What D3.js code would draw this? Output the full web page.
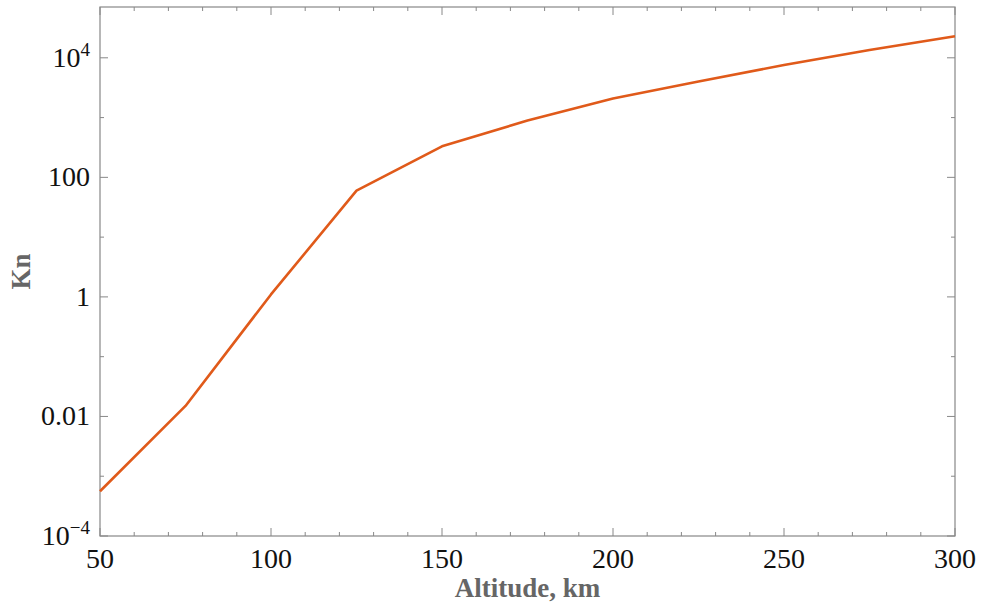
<!DOCTYPE html>
<html>
<head>
<meta charset="utf-8">
<script src="https://cdn.jsdelivr.net/npm/d3@7"></script>
<style>
  body { margin: 0; background: #fff; }
  text { font-family: "Liberation Serif", "Times New Roman", serif; }
</style>
</head>
<body>
<div id="chart"></div>
<script>
const altitudes = [50, 75, 100, 125, 150, 175, 200, 225, 250, 275, 300];
const knudsen = [5.6e-4, 0.015, 1.1, 60, 330, 890, 2090, 4000, 7600, 13500, 23000];
const xTicks = [50, 100, 150, 200, 250, 300];
const yTicks = [1e-4, 0.01, 1, 100, 1e4];
const yTickLabels = ['10|-4', '0.01', '1', '100', '10|4'];

const chartWidth = 985;
const chartHeight = 610;
const margin = {top: 7, right: 30, bottom: 74, left: 100};

const xScale = d3.scaleLinear()
  .domain([50, 300])
  .range([margin.left, chartWidth - margin.right]);

const yScale = d3.scaleLog()
  .domain([1e-4, Math.pow(10, 4.85)])
  .range([chartHeight - margin.bottom, margin.top]);

const chart = d3.select('#chart')
  .append('svg')
  .attr('width', chartWidth)
  .attr('height', chartHeight);

const frameColor = '#888';
const x0 = margin.left, x1 = chartWidth - margin.right;
const y0 = chartHeight - margin.bottom, y1 = margin.top;

//Minor ticks
const xMinor = d3.range(50, 301, 10).filter(v => !xTicks.includes(v));
const yMinor = [1e-3, 0.1, 10, 1e3];

function drawTicks(g, scale, values, len, orient) {
  g.selectAll(null)
    .data(values)
    .enter()
    .append('line')
    .attr('stroke', frameColor)
    .attr('stroke-width', 1)
    .each(function(d) {
      const s = d3.select(this);
      if (orient === 'bottom') s.attr('x1', scale(d)).attr('x2', scale(d)).attr('y1', y0).attr('y2', y0 - len);
      if (orient === 'top') s.attr('x1', scale(d)).attr('x2', scale(d)).attr('y1', y1).attr('y2', y1 + len);
      if (orient === 'left') s.attr('y1', scale(d)).attr('y2', scale(d)).attr('x1', x0).attr('x2', x0 + len);
      if (orient === 'right') s.attr('y1', scale(d)).attr('y2', scale(d)).attr('x1', x1).attr('x2', x1 - len);
    });
}

const ticks = chart.append('g').attr('class', 'ticks');
drawTicks(ticks, xScale, xTicks, 8, 'bottom');
drawTicks(ticks, xScale, xMinor, 4, 'bottom');
drawTicks(ticks, xScale, xTicks, 8, 'top');
drawTicks(ticks, xScale, xMinor, 4, 'top');
drawTicks(ticks, yScale, yTicks, 8, 'left');
drawTicks(ticks, yScale, yMinor, 4, 'left');
drawTicks(ticks, yScale, yTicks, 8, 'right');
drawTicks(ticks, yScale, yMinor, 4, 'right');

//Frame
chart.append('rect')
  .attr('x', x0)
  .attr('y', y1)
  .attr('width', x1 - x0)
  .attr('height', y0 - y1)
  .attr('fill', 'none')
  .attr('stroke', frameColor)
  .attr('stroke-width', 1.2);

//Tick labels
chart.append('g')
  .selectAll('text')
  .data(xTicks)
  .enter()
  .append('text')
  .attr('x', d => xScale(d))
  .attr('y', y0 + 32)
  .attr('text-anchor', 'middle')
  .attr('font-size', 28)
  .attr('fill', '#111')
  .text(d => d);

const yLabels = chart.append('g')
  .selectAll('text')
  .data(yTicks)
  .enter()
  .append('text')
  .attr('x', x0 - 10)
  .attr('y', d => yScale(d) + 9)
  .attr('text-anchor', 'end')
  .attr('font-size', 28)
  .attr('fill', '#111');

yLabels.each(function(d, i) {
  const parts = yTickLabels[i].split('|');
  const t = d3.select(this);
  t.append('tspan').text(parts[0]);
  if (parts[1]) {
    t.append('tspan')
      .attr('font-size', 19)
      .attr('dy', -11)
      .text(parts[1].replace('-', '\u2212'));
  }
});

//Axis titles
chart.append('text')
  .attr('x', (x0 + x1) / 2)
  .attr('y', 597)
  .attr('text-anchor', 'middle')
  .attr('font-size', 27)
  .attr('font-weight', 'bold')
  .attr('fill', '#666')
  .text('Altitude, km');

chart.append('text')
  .attr('transform', `translate(30, ${(y0 + y1) / 2}) rotate(-90)`)
  .attr('text-anchor', 'middle')
  .attr('font-size', 27)
  .attr('font-weight', 'bold')
  .attr('fill', '#666')
  .text('Kn');

//Line
const line = d3.line()
  .x((d, i) => xScale(altitudes[i]))
  .y(d => yScale(d));

chart.append('path')
  .datum(knudsen)
  .attr('d', line)
  .attr('fill', 'none')
  .attr('stroke', '#e05a1a')
  .attr('stroke-width', 2.6)
  .attr('stroke-linejoin', 'round');
</script>
</body>
</html>
